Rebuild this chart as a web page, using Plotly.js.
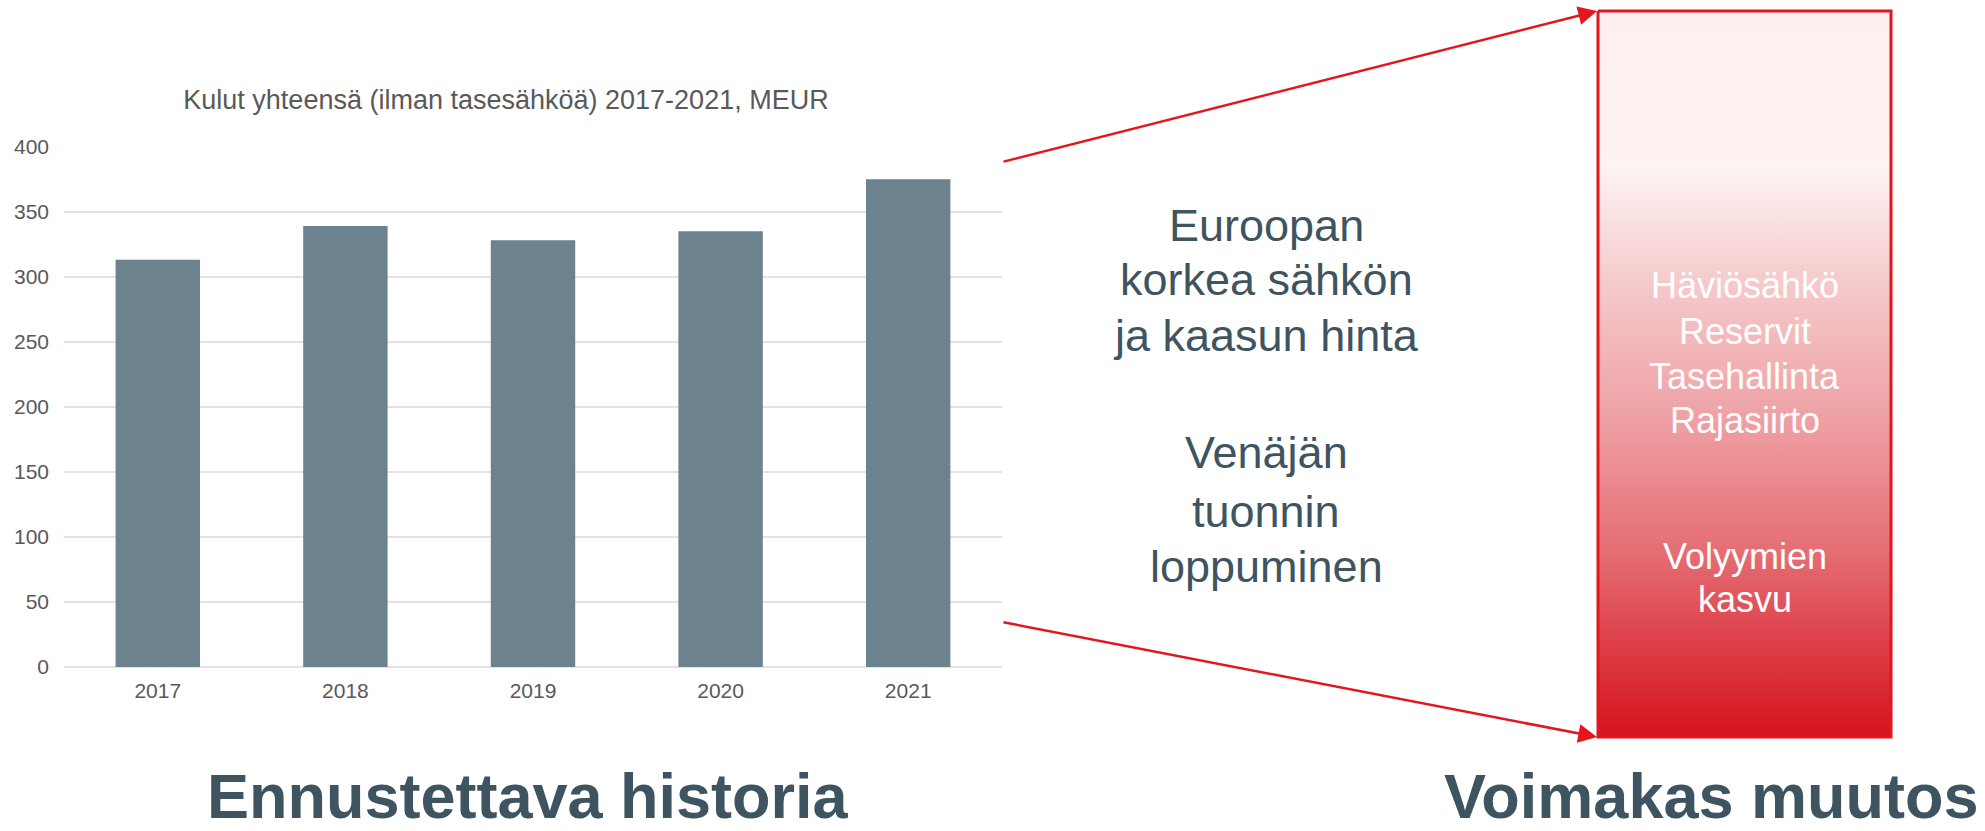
<!DOCTYPE html>
<html>
<head>
<meta charset="utf-8">
<script src="https://cdn.plot.ly/plotly-3.0.1.min.js"></script>
<style>html,body{margin:0;padding:0;background:#fff;}#chart{width:1985px;height:831px;}</style>
</head>
<body>
<div id="chart"></div>
<script>
// ---- data ----
const years = ['2017', '2018', '2019', '2020', '2021'];
const costs = [313, 339, 328, 335, 375];
const yTickVals = [0, 50, 100, 150, 200, 250, 300, 350, 400];
const chartTitle = 'Kulut yhteensä (ilman tasesähköä) 2017-2021, MEUR';
const driversText = ['Euroopan', 'korkea sähkön', 'ja kaasun hinta', 'Venäjän', 'tuonnin', 'loppuminen'];
const boxText = ['Häviösähkö', 'Reservit', 'Tasehallinta', 'Rajasiirto', 'Volyymien', 'kasvu'];
const leftHeading = 'Ennustettava historia';
const rightHeading = 'Voimakas muutos';

const W = 1985, H = 831;
const FONT = 'Arial, "Liberation Sans", sans-serif';
const RED = '#e3151f';
const SLATE = '#3e5460';

// text line positions (layout, in page pixels)
const driversY = [225, 279, 335, 452, 511, 566];
const boxY = [285.5, 331.5, 376.5, 420.5, 556, 599];

const bars = {
  type: 'bar', x: years, y: costs, xaxis: 'x', yaxis: 'y',
  marker: {color: '#6d828f'}, hoverinfo: 'x+y'
};

// overlay box with vertical gradient (pixel-coordinate overlay axes)
const box = {
  type: 'scatter', mode: 'lines', xaxis: 'x2', yaxis: 'y2',
  x: [1598, 1891, 1891, 1598, 1598],
  y: [11, 11, 737, 737, 11],
  fill: 'toself',
  fillgradient: {
    type: 'vertical', start: 11, stop: 737,
    colorscale: [
      [0, '#fdeff0'], [0.185, '#fdf1f1'], [0.21, '#fdf4f4'], [0.26, '#fbe7e8'],
      [0.377, '#f5c9cb'], [0.565, '#eea0a4'], [0.749, '#e56c73'],
      [0.88, '#dd3c45'], [1, '#d6131e']
    ]
  },
  line: {color: RED, width: 3},
  hoverinfo: 'skip', showlegend: false
};

const annotations = [];
driversText.forEach((t, i) => annotations.push({
  xref: 'x2', yref: 'y2', x: 1266, y: driversY[i], text: t, showarrow: false,
  xanchor: 'center', yanchor: 'middle', font: {family: FONT, size: 45, color: SLATE}
}));
boxText.forEach((t, i) => annotations.push({
  xref: 'x2', yref: 'y2', x: 1744.5, y: boxY[i], text: t, showarrow: false,
  xanchor: 'center', yanchor: 'middle', font: {family: FONT, size: 36, color: '#ffffff'}
}));
annotations.push(
  {xref: 'x2', yref: 'y2', x: 528, y: 796, text: '<b>' + leftHeading + '</b>', showarrow: false,
   xanchor: 'center', yanchor: 'middle', font: {family: FONT, size: 63, color: SLATE}},
  {xref: 'x2', yref: 'y2', x: 1711, y: 796, text: '<b>' + rightHeading + '</b>', showarrow: false,
   xanchor: 'center', yanchor: 'middle', font: {family: FONT, size: 63, color: SLATE}},
  // arrows
  {xref: 'x2', yref: 'y2', axref: 'x2', ayref: 'y2', x: 1597, y: 11, ax: 1002, ay: 162,
   text: '', showarrow: true, arrowhead: 2, arrowsize: 1.5, arrowwidth: 2.5, arrowcolor: RED, standoff: 0},
  {xref: 'x2', yref: 'y2', axref: 'x2', ayref: 'y2', x: 1597, y: 737, ax: 1002, ay: 622,
   text: '', showarrow: true, arrowhead: 2, arrowsize: 1.5, arrowwidth: 2.5, arrowcolor: RED, standoff: 0}
);

const layout = {
  width: W, height: H,
  margin: {l: 0, r: 0, t: 0, b: 0, pad: 0},
  paper_bgcolor: '#ffffff', plot_bgcolor: 'rgba(0,0,0,0)',
  showlegend: false,
  bargap: 0.55,
  font: {family: FONT, color: '#595959'},
  title: {text: chartTitle, x: 506 / W, y: 1 - 100 / H, xanchor: 'center', yanchor: 'middle',
          font: {family: FONT, size: 27, color: '#595959'}},
  xaxis: {
    domain: [64 / W, 1002 / W], anchor: 'y', type: 'category',
    showgrid: false, showline: false, zeroline: false, ticks: '',
    tickfont: {family: FONT, size: 21, color: '#595959'}, ticklabelstandoff: 9
  },
  yaxis: {
    domain: [164 / H, (H - 146.7) / H], anchor: 'x', range: [0, 400],
    tickvals: yTickVals, ticktext: yTickVals.map(String),
    showgrid: true, gridcolor: '#e3e3e3', gridwidth: 2,
    zeroline: true, zerolinecolor: '#e3e3e3', zerolinewidth: 2,
    showline: false, ticks: '',
    tickfont: {family: FONT, size: 21, color: '#595959'}, ticklabelstandoff: 14
  },
  xaxis2: {domain: [0, 1], anchor: 'y2', range: [0, W], visible: false, fixedrange: true},
  yaxis2: {domain: [0, 1], anchor: 'x2', range: [H, 0], visible: false, fixedrange: true},
  annotations: annotations
};

Plotly.newPlot('chart', [bars, box], layout, {displayModeBar: false, staticPlot: true});
</script>
</body>
</html>
